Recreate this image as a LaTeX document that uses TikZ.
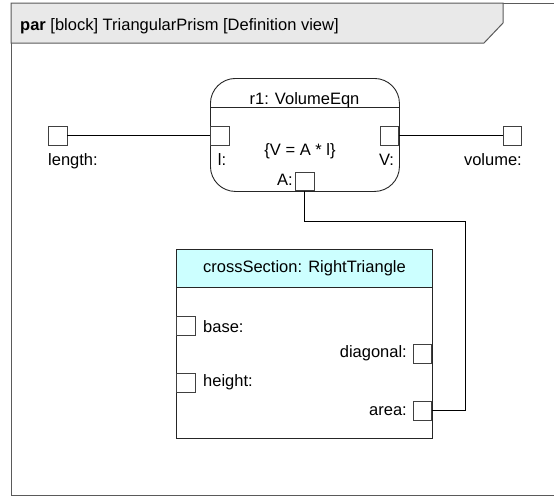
\documentclass[tikz,border=0pt]{standalone}
\usepackage{fontspec}
\setmainfont{Liberation Sans}
\definecolor{framegray}{RGB}{90,90,90}
\definecolor{headgray}{RGB}{233,233,233}
\definecolor{headcyan}{RGB}{204,255,255}
\begin{document}
\begin{tikzpicture}[x=1pt,y=-1pt,
  every node/.style={inner sep=0pt, font=\fontsize{16.5}{19}\selectfont},
  port/.style={draw=black!75, fill=white, line width=0.8pt, minimum size=18.5pt, inner sep=0pt},
  wire/.style={draw=black, line width=0.9pt},
  blockline/.style={draw=black!85, line width=0.9pt},
  lbl/.style={inner sep=0pt}]
\useasboundingbox (0,0) rectangle (554,496);
% frame
\draw[framegray, line width=1pt] (554,3) -- (11,3) -- (11,495) -- (554,495);
\draw[framegray, line width=1pt, fill=headgray] (11,3) -- (503,3) -- (503,23) -- (484,43) -- (11,43) -- cycle;
\node[lbl, anchor=base west] (title) at (20,30) {\textbf{par} [block] TriangularPrism [Definition view]};
% constraint block
\node[blockline, rounded corners=25pt, minimum width=189pt, minimum height=113pt, anchor=north west] (r1) at (210,78) {};
\draw[blockline] ([yshift=-29pt]r1.north west) -- ([yshift=-29pt]r1.north east);
\node[lbl, anchor=base] (r1name) at (304.5,104) {r1: VolumeEqn};
\node[lbl, anchor=base] (eqn) at (300,155) {\{V = A * l\}};
\node[port, anchor=north west] (pl) at (210,126) {};
\node[port, anchor=north east] (pV) at (399,126) {};
\node[port, anchor=south west] (pA) at (295,191) {};
\node[lbl, anchor=base] (lbll) at (222,165) {l:};
\node[lbl, anchor=base] (lblV) at (386.5,165) {V:};
\node[lbl, anchor=base east] (lblA) at (293,185) {A:};
% outer ports
\node[port, anchor=north west] (plen) at (48,126) {};
\node[port, anchor=north east] (pvol) at (522,126) {};
\node[lbl, anchor=base west] (lbllen) at (48,165) {length:};
\node[lbl, anchor=base east] (lblvol) at (522,165) {volume:};
% cross section block
\node[blockline, minimum width=256pt, minimum height=189pt, anchor=north west] (cs) at (176,249) {};
\node[blockline, fill=headcyan, minimum width=256pt, minimum height=38pt, anchor=north west] (csh) at (176,249) {crossSection: RightTriangle};
\node[port, anchor=north west] (pbase) at (176,316) {};
\node[port, anchor=north west] (pheight) at (176,373) {};
\node[port, anchor=north east] (pdiag) at (432,344) {};
\node[port, anchor=north east] (parea) at (432,401) {};
\node[lbl, anchor=base west] (lblbase) at (203,332) {base:};
\node[lbl, anchor=base west] (lblheight) at (203,386) {height:};
\node[lbl, anchor=base east] (lbldiag) at (407,357) {diagonal:};
\node[lbl, anchor=base east] (lblarea) at (407,415) {area:};
% connectors
\coordinate (c1) at (465,221);
\draw[wire] (plen.east) -- (pl.west);
\draw[wire] (pV.east) -- (pvol.west);
\draw[wire] (pA.south) |- (c1) |- (parea.east);
\end{tikzpicture}
\end{document}
